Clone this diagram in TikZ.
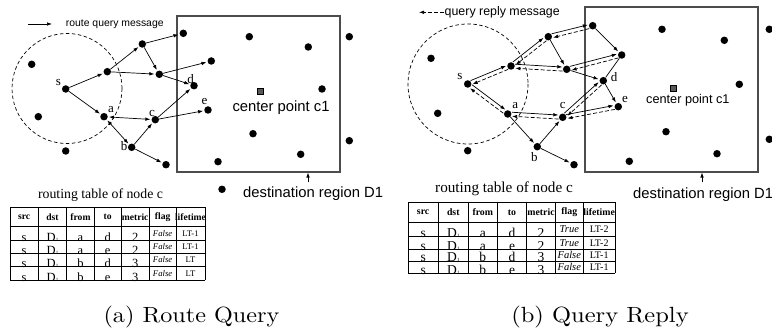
\documentclass[tikz,border=0pt]{standalone}
\usepackage{fontspec}
\newfontfamily\sansf{Liberation Sans}
\newfontfamily\seriff{Liberation Serif}
\usetikzlibrary{arrows.meta,calc}
\newcommand\bipair[2]{%
  \draw[arr,shorten <=4pt,shorten >=4.5pt] ($(#1.center)!2pt!90:(#2.center)$) -- ($(#2.center)!2pt!-90:(#1.center)$);
  \draw[darr,shorten <=4pt,shorten >=4.5pt] ($(#2.center)!2pt!90:(#1.center)$) -- ($(#1.center)!2pt!-90:(#2.center)$);}
\newcommand\Done{D\kern0.2pt{\fontsize{5}{5}\selectfont 1}}
\begin{document}
\begin{tikzpicture}[x=1pt,y=-1pt,
  dot/.style={circle,fill=black,inner sep=0pt,minimum size=7.5pt},
  lbl/.style={font=\seriff\fontsize{13}{13}\selectfont,inner sep=0pt},
  arr/.style={-{Latex[length=5pt,width=3.6pt]},line width=0.7pt,shorten >=1pt},
  arrboth/.style={{Latex[length=5pt,width=3.6pt]}-{Latex[length=5pt,width=3.6pt]},line width=0.7pt,shorten >=1pt,shorten <=1pt},
  darr/.style={arr,dash pattern=on 4pt off 2pt},
  regionbox/.style={draw=black!70,line width=1.1pt,inner sep=0pt},
  rangecirc/.style={dash pattern=on 3.5pt off 2.5pt,line width=0.7pt},
  cpoint/.style={draw=black,fill=black!65,inner sep=0pt,minimum size=6.5pt},
  sanstext/.style={inner sep=0pt,anchor=base west,font=\sansf\fontsize{#1}{#1}\selectfont},
  tline/.style={line width=0.8pt},
  hdr/.style={inner sep=0pt,font=\seriff\bfseries\fontsize{#1}{#1}\selectfont},
  big/.style={inner sep=0pt,anchor=base,font=\seriff\fontsize{#1}{#1}\selectfont},
  smi/.style={inner sep=0pt,font=\seriff\itshape\fontsize{#1}{#1}\selectfont},
  sml/.style={inner sep=0pt,font=\seriff\fontsize{#1}{#1}\selectfont},
  ttl/.style={inner sep=0pt,anchor=base,font=\seriff\fontsize{#1}{#1}\selectfont},
  captxt/.style={inner sep=0pt,anchor=base}
]
\useasboundingbox (0,0) rectangle (772,328);

%================ LEFT PANEL =================
% legend
\coordinate (legAs) at (28,24);
\coordinate (legAe) at (52,24);
\draw[arr,shorten >=0pt] (legAs) -- (legAe);
\node[sanstext=10.4] (legAt) at (65.7,27) {route query message};
% range and region
\draw[rangecirc] (67,88.5) circle (55);
\node[regionbox,minimum width=163pt,minimum height=156pt] (regA) at (258.5,94) {};
\node[cpoint] (cpA) at (260,91) {};
\node[sanstext=14.8] (cpAt) at (232.3,112) {center point c1};
\node[sanstext=14.8] (dstAt) at (243,197.5) {destination region D1};
\coordinate (dstAa) at (308,182.5);
\draw[arr,shorten >=0pt] (dstAa) -- (dstAa |- regA.south);
% dots
\node[dot] (oA1) at (31.7,64.3) {};
\node[dot] (sA) at (65.7,89) {};
\node[dot] (oA2) at (38.3,116.7) {};
\node[dot] (oA3) at (65.7,151) {};
\node[dot] (uA) at (107.3,71.7) {};
\node[dot] (tA) at (142.3,44) {};
\node[dot] (mA) at (159.3,74.3) {};
\node[dot] (dA) at (194,85.7) {};
\node[dot] (aA) at (104,116.7) {};
\node[dot] (cA) at (155.3,119.7) {};
\node[dot] (bA) at (131.7,147.3) {};
\node[dot] (wA) at (166,164.7) {};
\node[dot] (r1A) at (183.3,33.3) {};
\node[dot] (r2A) at (211.3,61) {};
\node[dot] (eA) at (208,110) {};
\node[dot] (iA1) at (249.3,36.7) {};
\node[dot] (iA2) at (308.3,47) {};
\node[dot] (iA3) at (322,89) {};
\node[dot] (iA4) at (253,133.7) {};
\node[dot] (iA5) at (300.7,154.3) {};
\node[dot] (iA6) at (218,161.7) {};
\node[dot] (xA1) at (349.3,36.7) {};
\node[dot] (xA2) at (349.3,140.7) {};
\node[dot] (xA3) at (222,189.3) {};
% labels
\node[lbl] (lsA) at (58.3,82.2) {s};
\node[lbl] (laA) at (111,109.3) {a};
\node[lbl] (lcA) at (152,113.5) {c};
\node[lbl] (lbA) at (124,146.2) {b};
\node[lbl] (ldA) at (190.7,79.3) {d};
\node[lbl] (leA) at (204.5,101.7) {e};
% edges
\draw[arr] (sA) -- (uA);
\draw[arr] (sA) -- (aA);
\draw[arr] (uA) -- (tA);
\draw[arr] (uA) -- (mA);
\draw[arr] (tA) -- (r1A);
\draw[arr] (tA) -- (mA);
\draw[arr] (mA) -- (r2A);
\draw[arr] (mA) -- (dA);
\draw[arrboth] (aA) -- (cA);
\draw[arrboth] (aA) -- (bA);
\draw[arr] (bA) -- (cA);
\draw[arr] (cA) -- (dA);
\draw[arr] (cA) -- (eA);
\draw[arr] (bA) -- (wA);
% table
\node[ttl=13.8] (ttlA) at (100.5,198.5) {routing table of node c};
\foreach \x in {10,38.3,66.7,94.3,121,149.3,176,205} \draw[tline] (\x,207) -- (\x,280.5);
\foreach \y in {207,226.7,240.3,253.2,266.5,280.5} \draw[tline] (10,\y) -- (205,\y);
\foreach \t/\cx in {src/24.15,dst/52.5,from/80.5,to/107.65,metric/135.15,flag/162.65,lifetime/190.5}
  \node[hdr=9.6] (hA\t) at (\cx,216.8) {\t};
\foreach \r/\yb/\yc/\fr/\tv/\me/\fl/\lf in {1/240.3/233.5/a/d/2/False/LT-1,2/253.2/246.75/a/e/2/False/LT-1,3/266.5/259.85/b/d/3/False/LT,4/280.5/273.5/b/e/3/False/LT}{
  \node[big=12.5] (cA\r-1) at (24.15,\yb+1) {s};
  \node[big=12.5] (cA\r-2) at (52.5,\yb+1) {\Done};
  \node[big=12.5] (cA\r-3) at (80.5,\yb+1) {\fr};
  \node[big=12.5] (cA\r-4) at (107.65,\yb+1) {\tv};
  \node[big=12.5] (cA\r-5) at (135.15,\yb+1) {\me};
  \node[smi=8.7] (cA\r-6) at (162.65,\yc) {\fl};
  \node[sml=8.6] (cA\r-7) at (190.5,\yc) {\lf};
}
\node[captxt] (capA) at (191.5,322.5) {\fontsize{10}{12}\selectfont\scalebox{2.42}[2.2]{(a) Route Query}};

%================ RIGHT PANEL =================
\coordinate (legBs) at (444,12.3);
\coordinate (legBe) at (419,12.3);
\draw[darr,shorten >=0pt] (legBs) -- (legBe);
\node[sanstext=12.4] (legBt) at (444.5,15.5) {query reply message};
\draw[rangecirc] (468,84) circle (60);
\node[regionbox,minimum width=173pt,minimum height=165pt] (regB) at (671.5,89.5) {};
\node[cpoint] (cpB) at (673,88) {};
\node[sanstext=12.7] (cpBt) at (646,104) {center point c1};
\node[sanstext=14.8] (dstBt) at (633,198.3) {destination region D1};
\coordinate (dstBa) at (702,182.5);
\draw[arr,shorten >=0pt] (dstBa) -- (dstBa |- regB.south);
% dots
\node[dot] (oB1) at (431,58.3) {};
\node[dot] (sB) at (467.7,84) {};
\node[dot] (oB2) at (437.7,113.3) {};
\node[dot] (oB3) at (467.7,150.7) {};
\node[dot] (uB) at (511,66) {};
\node[dot] (tB) at (548.3,36.7) {};
\node[dot] (mB) at (566.7,69.3) {};
\node[dot] (dB) at (603.3,80.7) {};
\node[dot] (aB) at (507.7,114) {};
\node[dot] (cB) at (562.7,117.3) {};
\node[dot] (bB) at (537.3,146.7) {};
\node[dot] (wB) at (574,164.7) {};
\node[dot] (r1B) at (592.7,25.7) {};
\node[dot] (r2B) at (621.7,55) {};
\node[dot] (eB) at (618.3,106.7) {};
\node[dot] (iB1) at (662,29.3) {};
\node[dot] (iB2) at (724.3,40.3) {};
\node[dot] (iB3) at (739.3,84.3) {};
\node[dot] (iB4) at (666,131.7) {};
\node[dot] (iB5) at (717,153.7) {};
\node[dot] (iB6) at (629.3,161.3) {};
\node[dot] (xB1) at (769.3,29.3) {};
\node[dot] (xB2) at (769.3,139.3) {};
% labels
\node[lbl] (lsB) at (460,76.7) {s};
\node[lbl] (laB) at (515.3,106) {a};
\node[lbl] (lcB) at (562.7,106) {c};
\node[lbl] (ldB) at (614,76.7) {d};
\node[lbl] (leB) at (625,99.3) {e};
\node[lbl] (lbB) at (534.3,156.7) {b};
% edges
\bipair{sB}{uB}
\bipair{sB}{aB}
\bipair{uB}{tB}
\bipair{tB}{r1B}
\draw[arr] (r1B) -- (r2B);
\draw[arr] (tB) -- (mB);
\bipair{uB}{mB}
\bipair{mB}{r2B}
\draw[arr] (mB) -- (dB);
\draw[line width=0.7pt] (dB) -- (r2B);
\draw[arr] (dB) -- (eB);
\bipair{cB}{dB}
\bipair{aB}{cB}
\bipair{cB}{eB}
\draw[arr] (aB) -- (bB);
\draw[arr] (bB) -- (cB);
\draw[arr] (bB) -- (wB);
% table
\node[ttl=15.2] (ttlB) at (504,193) {routing table of node c};
\foreach \x in {408,438.3,468.3,497.3,526.7,555.3,583.3,615} \draw[tline] (\x,202.3) -- (\x,273.3);
\foreach \y in {202.3,222.7,236.3,249.3,261,273.3} \draw[tline] (408,\y) -- (615,\y);
\foreach \t/\cx in {src/423.15,dst/453.3,from/482.8,to/512,metric/541,flag/569.3,lifetime/599.15}
  \node[hdr=9.8] (hB\t) at (\cx,212.4) {\t};
\foreach \r/\yb/\yc/\fr/\tv/\me/\fl/\lf in {1/236.3/229.5/a/d/2/True/LT-2,2/249.3/242.8/a/e/2/True/LT-2,3/261/255.2/b/d/3/False/LT-1,4/273.3/267.2/b/e/3/False/LT-1}{
  \node[big=13.5] (cB\r-1) at (423.15,\yb+1) {s};
  \node[big=13.5] (cB\r-2) at (453.3,\yb+1) {\Done};
  \node[big=13.5] (cB\r-3) at (482.8,\yb+1) {\fr};
  \node[big=13.5] (cB\r-4) at (512,\yb+1) {\tv};
  \node[big=13.5] (cB\r-5) at (541,\yb+1) {\me};
  \node[smi=10.5] (cB\r-6) at (569.3,\yc) {\fl};
  \node[sml=10] (cB\r-7) at (599.15,\yc) {\lf};
}
\node[captxt] (capB) at (600,322.5) {\fontsize{10}{12}\selectfont\scalebox{2.45}[2.2]{(b) Query Reply}};
\end{tikzpicture}
\end{document}
